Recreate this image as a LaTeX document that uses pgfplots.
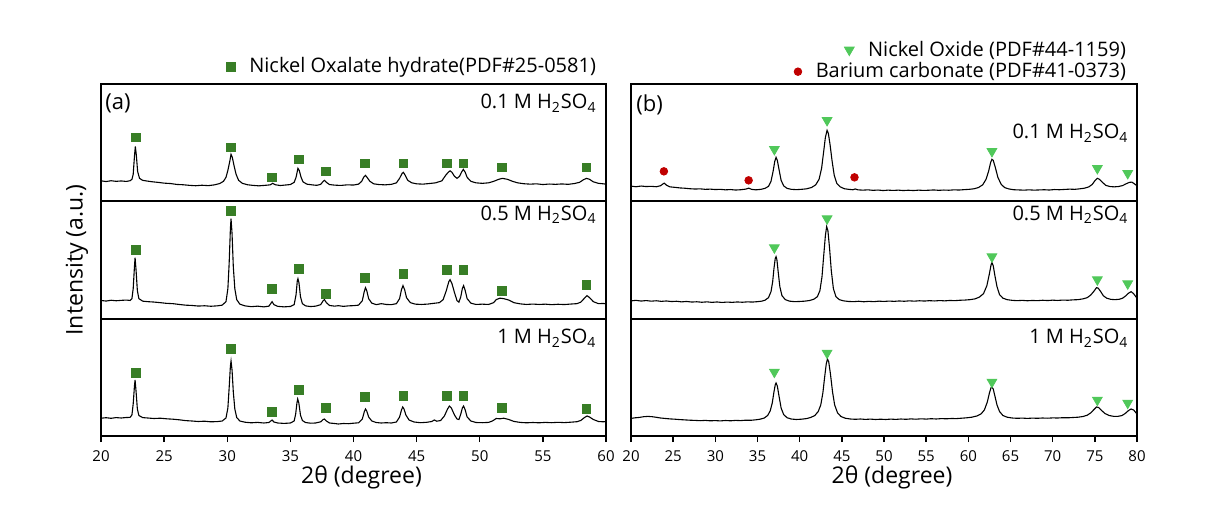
\documentclass[border=0pt]{standalone}
\usepackage{fontspec}
\setmainfont{Open Sans}
\usepackage{pgfplots}
\pgfplotsset{compat=1.18}
\definecolor{oxgreen}{RGB}{56,126,38}
\definecolor{niogreen}{RGB}{80,200,90}
\definecolor{bared}{RGB}{192,0,0}
\tikzset{sample/.style={font=\fontsize{10}{12}\selectfont, anchor=east, inner sep=0pt}}
\pgfplotsset{
 panel/.style={scale only axis, height=58.67pt, ymin=0, ymax=117.33, ytick=\empty, xtick=\empty,
   axis line style={line width=0.9pt}, anchor=south west},
 lpanel/.style={panel, width=252.5pt, xmin=20, xmax=60},
 rpanel/.style={panel, width=253pt, xmin=20, xmax=80},
 bottomticks/.style={tick align=outside, major tick length=3pt, xtick pos=bottom,
   tick style={line width=0.7pt, black},
   /pgf/number format/assume math mode=true,
   xticklabel style={font=\fontsize{7.5}{9}\selectfont, yshift=-1pt},
   xlabel={2θ (degree)},
   every axis x label/.style={at={(axis description cs:0.5,0)}, anchor=center, yshift=-20.5pt, xshift=4pt, font=\fontsize{11.5}{13}\selectfont}},
 trace/.style={black, line width=0.55pt, no marks},
 oxa/.style={only marks, mark=square*, mark size=2.2pt, color=oxgreen},
 nio/.style={only marks, mark=triangle*, mark size=2.8pt, color=niogreen, every mark/.append style={rotate=180}},
 baco/.style={only marks, mark=*, mark size=1.9pt, color=bared},
 mylegend/.style={legend style={draw=none, fill=none, inner sep=0pt, outer sep=0pt, anchor=east,
   font=\fontsize{10}{12}\selectfont, legend cell align=left,
   /tikz/every odd column/.append style={column sep=5pt}},
   legend image code/.code={\draw[##1] plot coordinates {(0pt,0pt)};}},
}
\begin{document}
\begin{tikzpicture}
\useasboundingbox (0,0) rectangle (603pt,252.5pt);

%================ LEFT PANEL ================
% top: 0.1 M
\begin{axis}[lpanel, at={(50.5pt,151.83pt)}, mylegend, legend style={at={(0.988,1.148)}}]
\addlegendimage{only marks, mark=square*, mark size=2.2pt, oxgreen}
\addlegendentry{Nickel Oxalate hydrate(PDF\#25-0581)}
\addplot[trace, forget plot] coordinates {
(20.0,20.5)(20.4,19.8)(20.8,20.6)(21.2,20.0)(21.6,20.4)(22.0,19.9)(22.3,20.6)(22.45,22)(22.55,27)(22.65,45)(22.72,55)(22.8,46)(22.9,30)(23.05,23)(23.3,21)(23.7,20.2)(24.1,19.5)(24.5,19.0)(25.0,18.2)(25.5,17.8)(26.0,16.9)(26.5,16.6)(27.0,16.0)(27.5,15.6)(28.0,16.1)(28.5,15.7)(29.0,16.5)(29.4,17.8)(29.7,20)(29.9,24)(30.05,31)(30.2,40)(30.3,47)(30.4,44)(30.55,35)(30.7,27)(30.9,21)(31.2,18)(31.6,16.6)(32.0,16.0)(32.5,15.5)(33.0,16.0)(33.4,16.5)(33.6,18)(33.8,16.6)(34.2,15.8)(34.6,16.3)(35.0,16.8)(35.3,19)(35.45,24)(35.6,33)(35.7,31)(35.85,24)(36.0,19.5)(36.3,17.2)(36.7,16.5)(37.1,16.0)(37.4,17)(37.6,20)(37.7,21)(37.85,19)(38.1,16.8)(38.5,16.2)(39.0,15.9)(39.5,16.5)(40.0,16.3)(40.4,17.2)(40.65,20)(40.8,24)(40.95,26)(41.1,23.5)(41.3,20)(41.6,17.5)(42.0,16.8)(42.5,16.5)(43.0,17)(43.4,18.5)(43.65,23)(43.85,28)(43.95,29)(44.1,26)(44.3,21)(44.6,18.6)(45.0,17.5)(45.5,17.2)(46.0,17.8)(46.5,18.5)(47.0,20.5)(47.3,26)(47.5,29)(47.65,30.5)(47.8,29)(48.0,25)(48.2,23)(48.4,25)(48.55,29)(48.7,32)(48.85,29)(49.0,24)(49.3,20)(49.7,18.5)(50.2,18)(50.7,18.5)(51.1,20)(51.5,22)(51.8,23)(52.2,22)(52.6,20)(53.0,18.5)(53.5,17.6)(54.0,17.2)(54.5,17.5)(55.0,16.8)(55.5,17.3)(56.0,17)(56.5,17.4)(57.0,17)(57.5,17.8)(57.9,19)(58.2,21.5)(58.45,23)(58.7,22)(59.0,19.5)(59.4,18)(59.8,17.5)(60.0,17.2)
};
\addplot[oxa, forget plot] coordinates {(22.75,64)(30.3,54)(33.55,24)(35.65,42)(37.8,30)(40.9,38)(43.95,38)(47.4,38)(48.7,38)(51.75,34)(58.45,34)};
\node[font=\fontsize{11}{13}\selectfont, anchor=west, inner sep=0pt] at (rel axis cs:0.008,0.838) {(a)};
\node[sample] at (rel axis cs:0.982,0.835) {0.1 M H\textsubscript{2}SO\textsubscript{4}};
\end{axis}

% middle: 0.5 M
\begin{axis}[lpanel, at={(50.5pt,93.17pt)}]
\addplot[trace] coordinates {
(20.0,18.2)(20.4,17.6)(20.8,18.4)(21.2,17.9)(21.6,18.3)(22.0,18.6)(22.3,18.2)(22.45,20)(22.55,30)(22.65,52)(22.7,61)(22.78,48)(22.88,28)(23.0,20)(23.3,17.5)(23.7,17)(24.2,16.6)(24.7,16)(25.2,15.3)(25.7,15)(26.2,14.2)(26.7,13.5)(27.2,13.2)(27.7,12.6)(28.2,12.9)(28.7,12.4)(29.2,12.8)(29.6,13.5)(29.9,17)(30.05,30)(30.15,55)(30.25,90)(30.3,100)(30.38,85)(30.48,52)(30.6,30)(30.75,19)(31.0,14.5)(31.4,12.8)(31.9,12)(32.4,12.5)(32.9,11.8)(33.3,12.5)(33.55,17)(33.7,14)(34.0,12.3)(34.5,11.8)(35.0,12.2)(35.3,14)(35.45,24)(35.55,38)(35.6,40)(35.68,36)(35.8,22)(35.95,15)(36.2,12.8)(36.6,12.1)(37.0,12.5)(37.4,14)(37.6,18)(37.7,19)(37.85,16)(38.1,13.2)(38.5,12.5)(38.8,13)(39.2,12.3)(39.6,12.8)(40.0,13)(40.4,13.5)(40.7,18)(40.85,27)(40.95,31)(41.05,28)(41.2,20)(41.45,15.5)(41.8,14)(42.2,15)(42.6,14.2)(43.0,14)(43.4,15)(43.65,20)(43.8,29)(43.92,33)(44.05,29)(44.2,21)(44.5,16)(44.9,14.5)(45.4,14.2)(45.9,14.6)(46.4,15.4)(46.8,16)(47.1,19)(47.35,28)(47.55,37)(47.65,39)(47.8,35)(48.0,26)(48.2,18)(48.35,16.5)(48.5,22)(48.62,30)(48.72,33)(48.85,28)(49.0,20)(49.3,15.5)(49.7,14.2)(50.2,14.5)(50.7,14.2)(51.1,16)(51.3,19)(51.6,20.5)(51.9,20)(52.3,18.6)(52.7,16)(53.2,14.8)(53.7,14.2)(54.2,14.6)(54.7,14.2)(55.2,14.5)(55.7,14.0)(56.2,14.4)(56.7,14.1)(57.2,14.6)(57.7,15)(58.0,16.5)(58.3,20.5)(58.5,23)(58.7,21)(59.0,17)(59.4,15)(59.8,15.2)(60.0,14.8)
};
\addplot[oxa] coordinates {(22.75,69)(30.3,108)(33.55,30)(35.65,50)(37.8,25)(40.9,41)(43.95,45)(47.4,49)(48.7,49)(51.75,28)(58.45,34)};
\node[sample] at (rel axis cs:0.982,0.883) {0.5 M H\textsubscript{2}SO\textsubscript{4}};
\end{axis}

% bottom: 1 M
\begin{axis}[lpanel, bottomticks, at={(50.5pt,34.5pt)}, xtick={20,25,...,60}]
\addplot[trace] coordinates {
(20.0,17.8)(20.4,18.3)(20.8,17.7)(21.2,18.4)(21.6,18.0)(22.0,18.5)(22.3,18.6)(22.45,21)(22.55,32)(22.65,50)(22.7,56)(22.78,44)(22.88,27)(23.0,20.5)(23.3,18.4)(23.7,18)(24.2,17.5)(24.7,17.8)(25.2,17.2)(25.7,16.8)(26.2,16.2)(26.7,15.4)(27.2,15)(27.7,14.5)(28.2,14.8)(28.7,14.2)(29.2,14.4)(29.6,15)(29.9,18)(30.05,28)(30.15,48)(30.25,70)(30.3,75)(30.38,66)(30.48,44)(30.6,27)(30.75,18.5)(31.0,15)(31.4,13.8)(31.9,13.2)(32.4,13.6)(32.9,13)(33.3,13.5)(33.55,16)(33.7,14)(34.0,13)(34.5,12.6)(35.0,13)(35.3,15)(35.42,22)(35.52,33)(35.58,37)(35.67,33)(35.8,21)(35.95,15.5)(36.2,13.5)(36.6,12.8)(37.0,13)(37.4,14.2)(37.6,16.5)(37.7,17)(37.85,15)(38.1,13)(38.5,12.5)(38.8,12)(39.2,12.5)(39.6,12.3)(40.0,12.8)(40.4,13.2)(40.7,17)(40.85,24)(40.95,27)(41.05,25)(41.2,19)(41.45,15)(41.8,13.5)(42.2,13)(42.6,13.3)(43.0,13)(43.4,14)(43.65,19)(43.8,26)(43.9,29)(44.0,27)(44.15,21)(44.4,16)(44.8,14)(45.3,13.3)(45.8,13.7)(46.2,14.5)(46.4,16)(46.6,14.8)(46.9,15.5)(47.2,20)(47.45,27)(47.6,30)(47.75,28)(48.0,21)(48.2,17)(48.35,16.5)(48.5,22)(48.62,28)(48.72,30)(48.85,26)(49.0,19)(49.3,15)(49.7,13.5)(50.2,13.3)(50.7,13.6)(51.0,15)(51.3,17.5)(51.6,17.2)(51.9,17.8)(52.3,16.5)(52.7,14.6)(53.2,13.6)(53.7,13.2)(54.2,13.5)(54.7,13.2)(55.2,13.6)(55.7,13.3)(56.2,13.7)(56.7,13.4)(57.2,13.8)(57.7,14.3)(58.0,15.5)(58.3,18.5)(58.5,20)(58.7,19)(59.0,16.5)(59.4,14.5)(59.8,14.2)(60.0,14.5)
};
\addplot[oxa] coordinates {(22.75,63)(30.3,87)(33.55,24)(35.65,46)(37.8,28)(40.9,39)(43.95,40)(47.4,40)(48.7,40)(51.75,28)(58.45,27)};
\node[sample] at (rel axis cs:0.982,0.833) {1 M H\textsubscript{2}SO\textsubscript{4}};
\end{axis}

%================ RIGHT PANEL ================
% top: 0.1 M
\begin{axis}[rpanel, at={(315.5pt,151.83pt)}, mylegend, legend style={at={(0.986,1.105)}}]
\addlegendimage{only marks, mark=*, mark size=1.9pt, bared}
\addlegendentry{Barium carbonate (PDF\#41-0373)}
\addplot[trace, forget plot] coordinates {
(20,15.2)(20.6,14.6)(21.2,15.3)(21.8,14.8)(22.4,15.0)(23.0,14.6)(23.5,15.6)(23.8,17.5)(23.95,18.2)(24.2,16.2)(24.6,14.5)(25.2,14.0)(25.8,13.4)(26.4,13.1)(27.0,12.6)(27.6,12.3)(28.2,12.5)(28.8,12.0)(29.4,12.2)(30.0,11.8)(30.6,12.0)(31.2,11.5)(31.8,11.8)(32.4,11.3)(33.0,11.6)(33.6,12.2)(33.95,13.2)(34.3,12)(34.8,11.5)(35.4,12)(35.9,13)(36.3,15)(36.6,20)(36.85,30)(37.05,40)(37.2,44)(37.35,41)(37.55,32)(37.8,21)(38.1,15.5)(38.5,13)(39.0,12)(39.6,11.7)(40.2,12)(40.8,12.5)(41.4,13.8)(41.9,16.5)(42.3,22)(42.6,33)(42.85,50)(43.05,64)(43.25,71)(43.4,68)(43.6,57)(43.85,40)(44.1,26)(44.4,18)(44.8,14.5)(45.3,12.6)(45.8,12)(46.3,11.6)(46.6,12.4)(46.9,11.5)(47.5,11.2)(48.1,11.5)(48.7,11)(49.3,11.3)(49.9,10.8)(50.5,11.2)(51.1,10.9)(51.7,11.2)(52.3,10.8)(52.9,11.1)(53.5,10.8)(54.1,11.2)(54.7,10.9)(55.3,11.1)(55.9,11.4)(56.5,11.0)(57.1,11.3)(57.7,11.1)(58.3,11.5)(58.9,11.3)(59.5,11.7)(60.1,12)(60.7,12.6)(61.2,13.8)(61.7,16.5)(62.1,22)(62.4,30)(62.65,39)(62.8,42)(62.95,41)(63.2,34)(63.5,24)(63.9,17)(64.3,13.8)(64.8,12.4)(65.4,11.6)(66.0,11.4)(66.6,11.2)(67.2,11.5)(67.8,11.2)(68.4,11.4)(69.0,11.6)(69.6,11.3)(70.2,11.8)(70.8,11.6)(71.4,11.9)(72.0,12.2)(72.6,12.0)(73.2,12.5)(73.8,13.2)(74.3,14.5)(74.7,17)(75.0,20.5)(75.3,23)(75.55,22)(75.9,19)(76.3,16)(76.8,14.8)(77.3,14.5)(77.8,14.8)(78.3,15.8)(78.7,17.5)(79.1,19)(79.4,19.2)(79.7,17.5)(80.0,15.5)
};
\addplot[nio, forget plot] coordinates {(37.0,52)(43.25,81)(62.8,50)(75.3,33)(78.9,28)};
\addplot[baco, forget plot] coordinates {(23.9,30)(33.95,21)(46.5,24)};
\node[font=\fontsize{11}{13}\selectfont, anchor=west, inner sep=0pt] at (rel axis cs:0.01,0.82) {(b)};
\node[sample] at (rel axis cs:0.984,0.58) {0.1 M H\textsubscript{2}SO\textsubscript{4}};
\end{axis}

% middle: 0.5 M
\begin{axis}[rpanel, at={(315.5pt,93.17pt)}, mylegend, legend style={at={(0.986,2.29)}}]
\addlegendimage{only marks, mark=triangle*, mark size=2.8pt, niogreen, every mark/.append style={rotate=180}}
\addlegendentry{Nickel Oxide (PDF\#44-1159)}
\addplot[trace, forget plot] coordinates {
(20,17.8)(20.6,18.3)(21.2,17.6)(21.8,18.1)(22.4,17.5)(23.0,17.9)(23.6,17.3)(24.2,17.7)(24.8,17.1)(25.4,17.4)(26.0,16.8)(26.6,17.2)(27.2,16.6)(27.8,16.9)(28.4,16.4)(29.0,16.8)(29.6,16.3)(30.2,16.7)(30.8,16.2)(31.4,16.6)(32.0,16.3)(32.6,16.7)(33.2,16.4)(33.8,16.8)(34.4,16.6)(35.0,17)(35.5,17.5)(35.9,18.5)(36.3,21)(36.6,27)(36.8,37)(36.95,50)(37.1,60)(37.2,62)(37.3,59)(37.45,47)(37.65,32)(37.9,23)(38.3,19)(38.8,17.5)(39.4,17)(40.0,17.2)(40.6,17.5)(41.2,18.2)(41.7,19.5)(42.1,22)(42.4,28)(42.65,42)(42.85,63)(43.05,83)(43.2,92)(43.35,88)(43.55,70)(43.75,48)(44.0,30)(44.3,22)(44.7,19)(45.2,17.8)(45.8,17.2)(46.4,17)(47.0,17.4)(47.6,16.9)(48.2,17.3)(48.8,17.0)(49.4,17.5)(50.0,17.2)(50.6,17.6)(51.2,17.3)(51.8,17.7)(52.4,17.4)(53.0,17.8)(53.6,17.5)(54.2,17.9)(54.8,17.6)(55.4,18)(56.0,17.7)(56.6,18.1)(57.2,17.8)(57.8,18.2)(58.4,18)(59.0,18.4)(59.6,18.6)(60.2,19)(60.8,19.8)(61.3,21.5)(61.8,25)(62.2,33)(62.5,45)(62.7,54)(62.8,56)(62.95,53)(63.15,43)(63.4,32)(63.7,24)(64.1,20.5)(64.6,19)(65.2,18.3)(65.8,18)(66.4,18.3)(67.0,17.9)(67.6,18.2)(68.2,18.0)(68.8,18.4)(69.4,18.1)(70.0,18.5)(70.6,18.2)(71.2,18.6)(71.8,18.4)(72.4,18.8)(73.0,19)(73.6,19.8)(74.1,21)(74.5,23.5)(74.9,27.5)(75.2,31)(75.4,30.5)(75.7,27)(76.0,23)(76.4,20.5)(76.9,19.3)(77.4,19)(77.9,19.4)(78.3,20.5)(78.7,23)(79.0,25.5)(79.3,27)(79.6,25)(79.9,21.5)(80.0,20.8)
};
\addplot[nio, forget plot] coordinates {(37.0,71)(43.25,100)(62.8,62)(75.3,39)(78.9,35)};
\node[sample] at (rel axis cs:0.984,0.883) {0.5 M H\textsubscript{2}SO\textsubscript{4}};
\end{axis}

% bottom: 1 M
\begin{axis}[rpanel, bottomticks, at={(315.5pt,34.5pt)}, xtick={20,25,...,80}]
\addplot[trace] coordinates {
(20,17.6)(20.5,18.2)(21.0,18.6)(21.5,19.3)(22.0,19.6)(22.5,19.3)(23.0,18.7)(23.5,18.0)(24.0,17.6)(24.6,17.1)(25.2,16.8)(25.8,16.4)(26.4,16.1)(27.0,15.8)(27.6,15.6)(28.2,15.3)(28.8,15.6)(29.4,15.2)(30.0,15.4)(30.6,15.1)(31.2,15.5)(31.8,15.2)(32.4,15.6)(33.0,15.4)(33.6,15.8)(34.2,15.7)(34.8,16.2)(35.3,16.8)(35.8,18)(36.2,20.5)(36.5,25)(36.75,33)(36.95,44)(37.1,51)(37.2,53)(37.35,50)(37.55,40)(37.8,28)(38.1,21.5)(38.5,18.3)(39.0,17)(39.6,16.5)(40.2,16.8)(40.8,17.4)(41.3,18.5)(41.8,20.5)(42.2,24.5)(42.5,31)(42.75,43)(42.95,58)(43.15,72)(43.3,77)(43.45,74)(43.65,62)(43.9,44)(44.15,31)(44.5,23)(44.9,19.5)(45.4,17.8)(46.0,17)(46.6,16.7)(47.2,17)(47.8,16.6)(48.4,16.9)(49.0,16.5)(49.6,16.8)(50.2,16.5)(50.8,16.9)(51.4,16.6)(52.0,17)(52.6,16.7)(53.2,17.1)(53.8,16.8)(54.4,17.2)(55.0,16.9)(55.6,17.3)(56.2,17)(56.8,17.4)(57.4,17.2)(58.0,17.5)(58.6,17.4)(59.2,17.8)(59.8,18.2)(60.4,18.8)(61.0,20)(61.5,22)(61.9,26)(62.25,34)(62.5,43)(62.7,48.5)(62.8,49)(62.95,47)(63.15,40)(63.4,31)(63.7,24.5)(64.1,20.5)(64.6,18.8)(65.2,18)(65.8,17.7)(66.4,17.9)(67.0,17.6)(67.6,17.9)(68.2,17.7)(68.8,18)(69.4,17.8)(70.0,18.1)(70.6,18)(71.2,18.3)(71.8,18.2)(72.4,18.5)(73.0,18.8)(73.6,19.5)(74.1,20.8)(74.5,23)(74.9,26.5)(75.2,29)(75.45,28.5)(75.8,25.5)(76.2,22.5)(76.7,20.5)(77.2,19.7)(77.7,19.6)(78.2,20.4)(78.6,22.5)(79.0,25.5)(79.3,27)(79.6,26)(79.9,23)(80.0,22)
};
\addplot[nio] coordinates {(37.0,64)(43.25,83)(62.8,54)(75.3,36)(78.9,33)};
\node[sample] at (rel axis cs:0.984,0.833) {1 M H\textsubscript{2}SO\textsubscript{4}};
\end{axis}

\node[rotate=90, font=\fontsize{11.5}{13}\selectfont] at (38.5pt,122.5pt) {Intensity (a.u.)};
\end{tikzpicture}
\end{document}
